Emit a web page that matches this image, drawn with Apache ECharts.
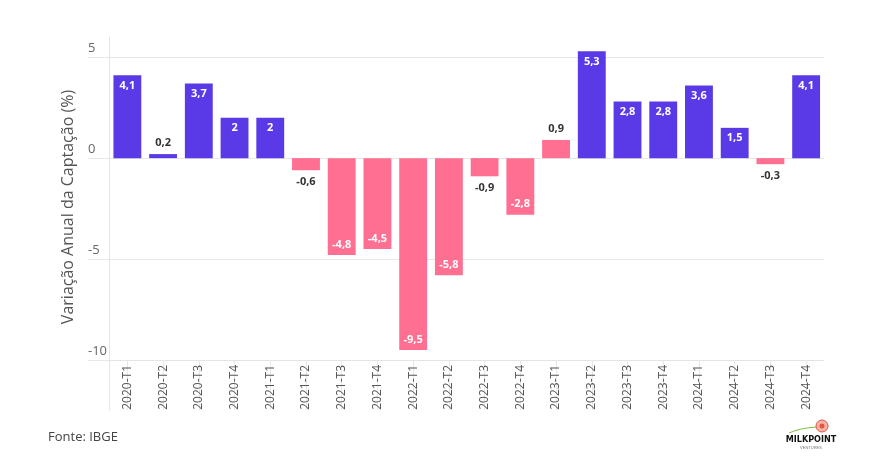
<!DOCTYPE html>
<html>
<head>
<meta charset="utf-8">
<script src="https://cdn.jsdelivr.net/npm/echarts@6/dist/echarts.min.js"></script>
<style>
html,body{margin:0;padding:0;background:#fff;}
#chart{width:870px;height:463px;}
</style>
</head>
<body>
<div id="chart"></div>
<script>
const categories = ['2020-T1','2020-T2','2020-T3','2020-T4','2021-T1','2021-T2','2021-T3','2021-T4','2022-T1','2022-T2','2022-T3','2022-T4','2023-T1','2023-T2','2023-T3','2023-T4','2024-T1','2024-T2','2024-T3','2024-T4'];
const values = [4.1,0.2,3.7,2,2,-0.6,-4.8,-4.5,-9.5,-5.8,-0.9,-2.8,0.9,5.3,2.8,2.8,3.6,1.5,-0.3,4.1];
// group: 'up' = purple bars, 'down' = pink bars (as coloured in the reference)
const groups = ['up','up','up','up','up','down','down','down','down','down','down','down','down','up','up','up','up','up','down','up'];
const yTicks = [-10,-5,0,5];
const yTitle = 'Variação Anual da Captação (%)';
const source = 'Fonte: IBGE';

const colors = {up:'#5A3AE6', down:'#FF6F91'};
const fmt = v => String(v).replace('.', ',');
const FONT = '"Open Sans", "Noto Sans", sans-serif';

const data = values.map((v,i) => {
  const small = Math.abs(v) < 1;
  let pos;
  if (v >= 0) pos = small ? 'top' : 'insideTop';
  else pos = small ? 'bottom' : 'insideBottom';
  return {
    value: v,
    itemStyle: {color: colors[groups[i]]},
    label: {
      show: true,
      position: pos,
      distance: small ? 6 : 5,
      color: small ? '#333333' : '#ffffff',
      fontWeight: 'bold',
      fontSize: 11,
      fontFamily: FONT,
      formatter: () => fmt(v)
    }
  };
});

const gridColor = '#e8e8e8';
const chart = echarts.init(document.getElementById('chart'), null, {renderer:'canvas'});
chart.setOption({
  backgroundColor: '#ffffff',
  animation: false,
  grid: [
    {left: 109.5, right: 46, top: 37, bottom: 103, containLabel: false},
    {left: 88, right: 46, top: 37, bottom: 103, containLabel: false}
  ],
  xAxis: [{
    type: 'category',
    gridIndex: 0,
    data: categories,
    axisLine: {show: true, onZero: false, lineStyle: {color: '#e4e4e4', width: 1}},
    axisTick: {show: true, alignWithLabel: true, length: 50, lineStyle: {color: gridColor, width: 1}},
    axisLabel: {
      rotate: 90, interval: 0, margin: 5,
      color: '#555555', fontSize: 12, fontFamily: FONT,
      padding: [0, 0, 16, 0]
    },
    splitLine: {show: false}
  }, {
    type: 'value', gridIndex: 1, show: false, min: 0, max: 1
  }],
  yAxis: [{
    type: 'value',
    gridIndex: 0,
    min: -10, max: 6,
    axisLine: {show: true, lineStyle: {color: '#e4e4e4', width: 1}},
    axisTick: {show: false},
    axisLabel: {show: false},
    splitLine: {show: false}
  }, {
    // full-width gridlines incl. the stub under the tick labels
    type: 'value',
    gridIndex: 1,
    min: -10, max: 6,
    axisLine: {show: false},
    axisTick: {show: false, customValues: yTicks},
    axisLabel: {
      customValues: yTicks,
      inside: true, margin: 0, align: 'left', verticalAlign: 'bottom',
      padding: [0, 0, 2, 0],
      color: '#666666', fontSize: 13, fontFamily: FONT
    },
    splitLine: {show: true, lineStyle: {color: gridColor, width: 1}}
  }],
  series: [{
    type: 'bar',
    xAxisIndex: 0, yAxisIndex: 0,
    data: data,
    barCategoryGap: '22%',
    z: 3
  }],
  graphic: [
    {type: 'text', x: 68, y: 207, rotation: Math.PI/2,
     style: {text: yTitle, fill: '#555555', font: '16px ' + FONT, align: 'center', verticalAlign: 'middle'}},
    {type: 'line', shape: {x1: 109.5, y1: 360, x2: 109.5, y2: 411}, style: {stroke: gridColor, lineWidth: 1}},
    {type: 'text', x: 48, y: 437,
     style: {text: source, fill: '#444444', font: '13px ' + FONT, align: 'left', verticalAlign: 'middle'}},
    {type: 'group', x: 0, y: 0, children: [
      {type: 'bezierCurve', shape: {x1: 789, y1: 433, x2: 817, y2: 427, cpx1: 800, cpy1: 428},
       style: {stroke: '#7fbf3f', lineWidth: 1, fill: null}},
      {type: 'circle', shape: {cx: 822, cy: 426, r: 6}, style: {fill: '#f7b3a8', stroke: '#e2553f', lineWidth: 1}},
      {type: 'circle', shape: {cx: 822, cy: 426, r: 2.5}, style: {fill: '#e2553f'}},
      {type: 'text', x: 811, y: 440, style: {text: 'MILKPOINT', fill: '#111111', font: 'bold 9px "DejaVu Sans Condensed", sans-serif', align: 'center', verticalAlign: 'middle'}},
      {type: 'text', x: 811, y: 447.5, style: {text: 'VENTURES', fill: '#777777', font: '4px sans-serif', align: 'center', verticalAlign: 'middle'}}
    ]}
  ]
});
</script>
</body>
</html>
